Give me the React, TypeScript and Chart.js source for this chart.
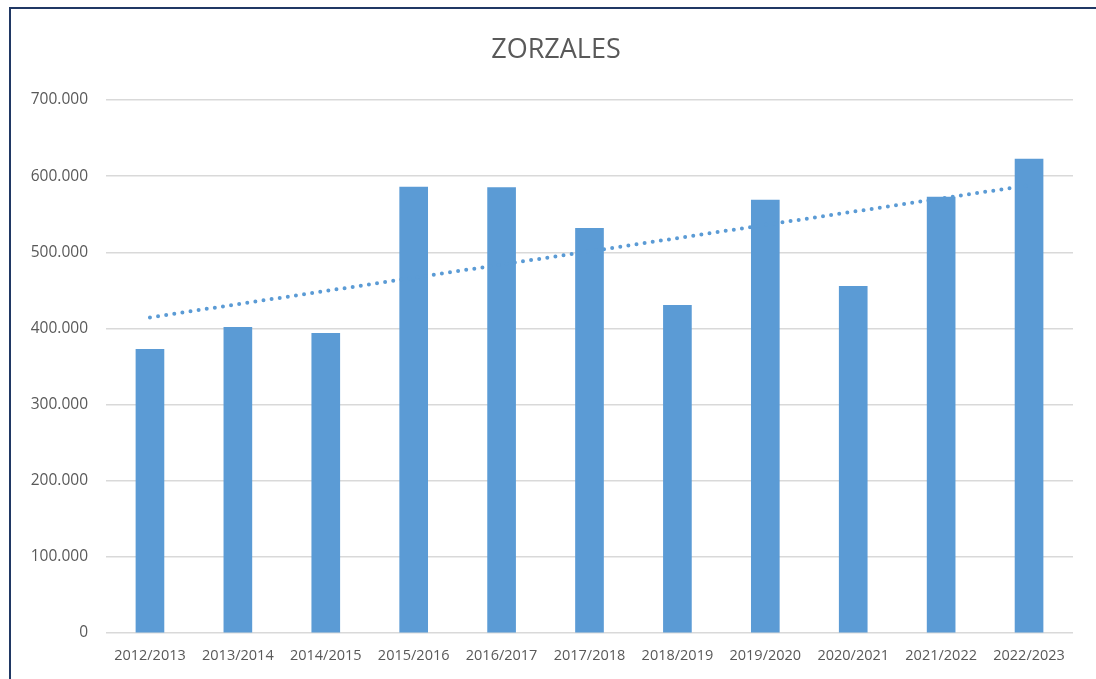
import React, { useEffect, useRef } from "react";
import { Chart, registerables } from "chart.js";

Chart.register(...registerables);

const categories = [
  "2012/2013", "2013/2014", "2014/2015", "2015/2016", "2016/2017", "2017/2018",
  "2018/2019", "2019/2020", "2020/2021", "2021/2022", "2022/2023",
];
const values = [372400, 401300, 393400, 585500, 585000, 531600, 430300, 568400, 455300, 572400, 622400];
const trendValues = [414500, null, null, null, null, null, null, null, null, null, 588000];
const yTicks = [0, 100000, 200000, 300000, 400000, 500000, 600000, 700000];
const title = "ZORZALES";

const fmt = (v: number) => String(Math.round(v)).replace(/\B(?=(\d{3})+(?!\d))/g, ".");

export default function App() {
  const ref = useRef<HTMLCanvasElement | null>(null);
  useEffect(() => {
    document.body.style.overflow = "hidden";
    const ctx = ref.current!;
    const chart = new Chart(ctx, {
      type: "bar",
      data: {
        labels: categories,
        datasets: [
          {
            type: "line",
            data: trendValues as any,
            borderColor: "#5B9BD5",
            borderWidth: 4,
            borderDash: [0, 8.2],
            borderCapStyle: "round",
            pointRadius: 0,
            spanGaps: true,
            order: 0,
          } as any,
          {
            type: "bar",
            data: values,
            backgroundColor: "#5B9BD5",
            barThickness: 28,
            order: 1,
          },
        ],
      },
      options: {
        animation: false,
        responsive: false,
        maintainAspectRatio: false,
        layout: { padding: { left: 20, right: 23, top: 100, bottom: 0 } },
        plugins: {
          legend: { display: false },
          tooltip: { enabled: false },
          title: { display: false },
        },
        scales: {
          x: {
            grid: { display: false, drawTicks: false },
            border: { display: false },
            ticks: {
              color: "#595959",
              font: { family: "Open Sans", size: 14.5 },
              padding: 14,
              maxRotation: 0,
              autoSkip: false,
            },
            afterFit: (s: any) => { s.height = 46; },
          },
          y: {
            min: 0,
            max: 700000,
            afterBuildTicks: (s: any) => { s.ticks = yTicks.map((v) => ({ value: v })); },
            grid: { color: "#d9d9d9", lineWidth: 1.5, drawTicks: false },
            border: { display: false },
            ticks: {
              color: "#595959",
              font: { family: "Open Sans", size: 15.5 },
              padding: 18,
              callback: (v: any) => fmt(Number(v)),
            },
            afterFit: (s: any) => { s.width = 86; },
          },
        },
      },
    });
    return () => chart.destroy();
  }, []);
  return (
    <div>
      <canvas
        ref={ref}
        width={1096}
        height={679}
        style={{ position: "fixed", left: 0, top: 0, width: 1096, height: 679 }}
      />
      <div
        style={{
          position: "fixed",
          left: 0,
          top: 30,
          width: 1112,
          textAlign: "center",
          fontFamily: "Open Sans",
          fontSize: 27,
          lineHeight: "36px",
          color: "#595959",
        }}
      >
        {title}
      </div>
      <div
        style={{
          position: "fixed",
          left: 9,
          top: 7,
          width: 1200,
          height: 800,
          borderLeft: "2px solid #203864",
          borderTop: "2px solid #203864",
          pointerEvents: "none",
        }}
      />
    </div>
  );
}
